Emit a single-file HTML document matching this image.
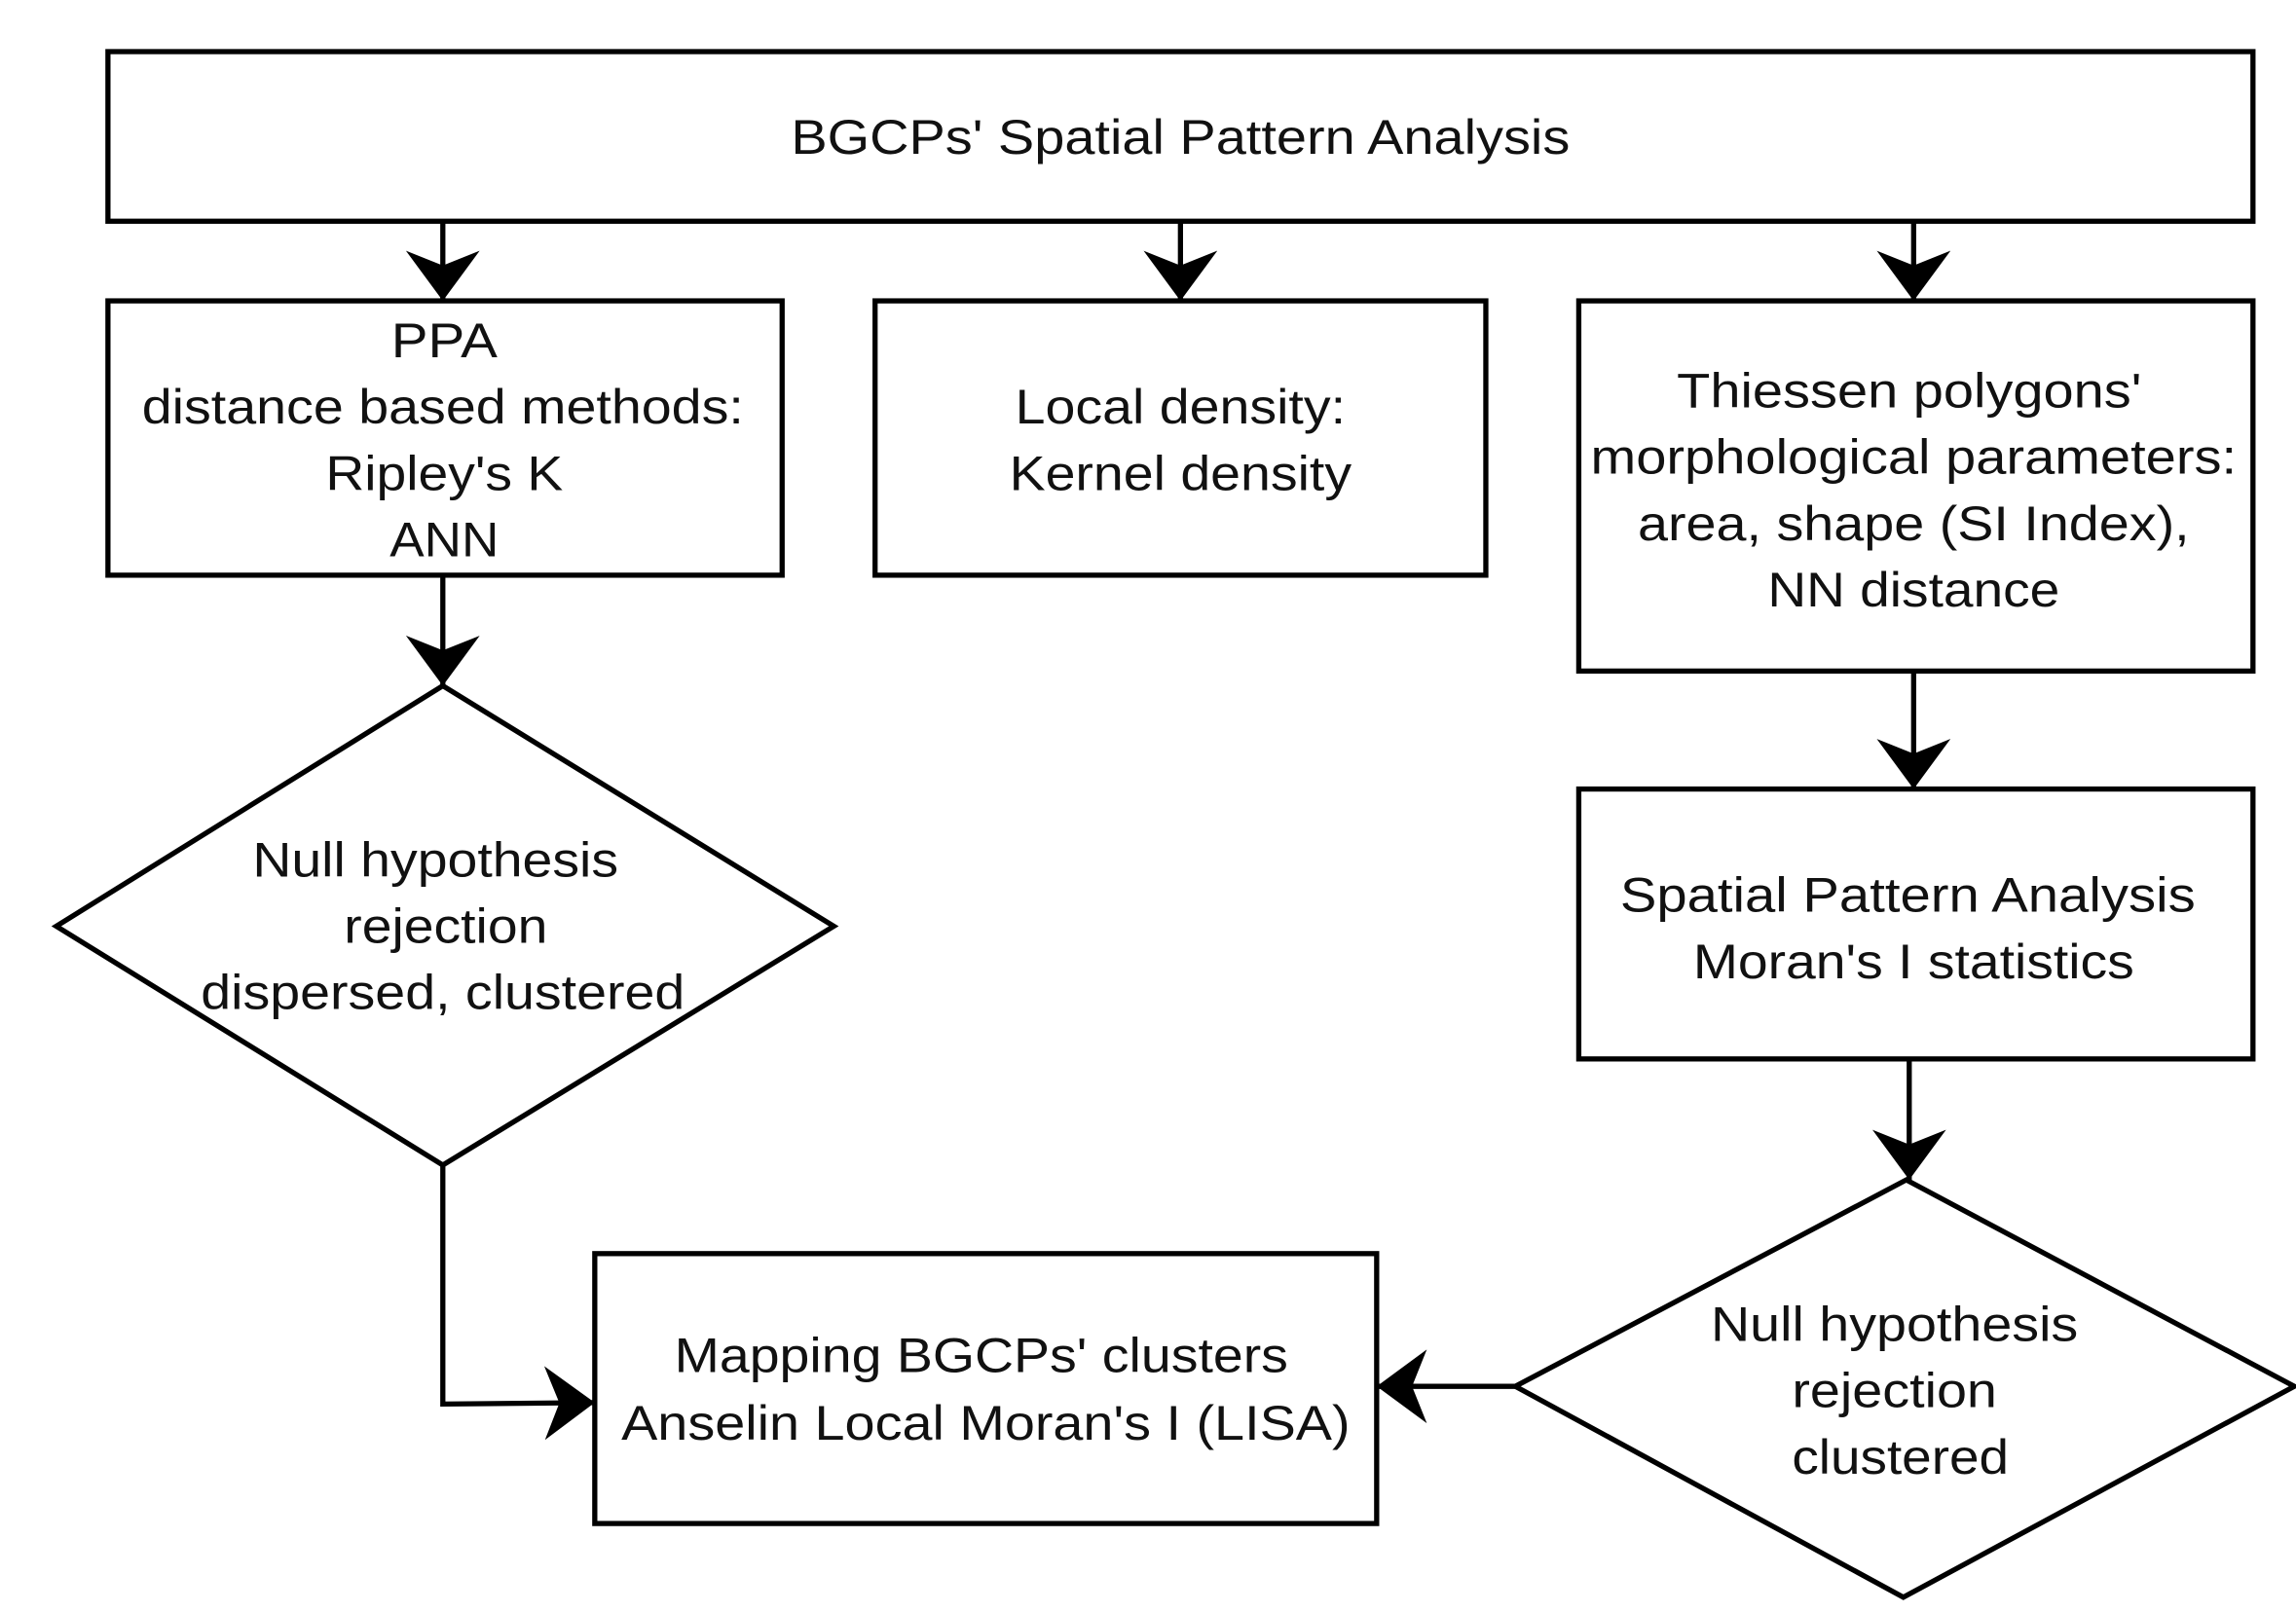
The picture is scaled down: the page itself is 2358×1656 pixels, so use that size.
<!DOCTYPE html>
<html><head><meta charset="utf-8"><style>html,body{margin:0;padding:0;background:#fff}svg{display:block}</style></head>
<body>
<svg width="2358" height="1656" viewBox="0 0 1556 1093" xmlns="http://www.w3.org/2000/svg">
<defs>
<marker id="a" viewBox="0 0 34 50" refX="34" refY="25" markerWidth="34" markerHeight="50" markerUnits="userSpaceOnUse" orient="auto">
<path d="M0,0 L34,25 L0,50 L10,25 Z" fill="#000"/>
</marker>
</defs>
<g fill="none" stroke="#000" stroke-width="3.5">
<rect x="73" y="35" width="1454" height="115"/>
<rect x="73" y="204" width="457" height="186"/>
<rect x="593" y="204" width="414" height="186"/>
<rect x="1070" y="204" width="457" height="251"/>
<rect x="1070" y="535" width="457" height="183"/>
<rect x="403" y="850" width="530" height="183"/>
<polygon points="300,465 565,628 300,790 38,628"/>
<polygon points="1292,800 1555,940 1290,1083 1027,940"/>
<g marker-end="url(#a)">
<line x1="300" y1="150" x2="300" y2="204"/>
<line x1="800" y1="150" x2="800" y2="204"/>
<line x1="1297" y1="150" x2="1297" y2="204"/>
<line x1="300" y1="390" x2="300" y2="465"/>
<line x1="1297" y1="455" x2="1297" y2="535"/>
<line x1="1294" y1="718" x2="1294" y2="800"/>
<polyline points="300,790 300,952 403,951"/>
<line x1="1027" y1="940" x2="933" y2="940"/>
</g>
</g>
<g font-family="Liberation Sans, sans-serif" font-size="33" fill="#111" text-anchor="middle" dominant-baseline="central">
<text x="800" y="93" textLength="528" lengthAdjust="spacingAndGlyphs">BGCPs' Spatial Pattern Analysis</text>
<text x="301" y="231" textLength="72" lengthAdjust="spacingAndGlyphs">PPA</text>
<text x="300" y="276" textLength="408" lengthAdjust="spacingAndGlyphs">distance based methods:</text>
<text x="301" y="321" textLength="161" lengthAdjust="spacingAndGlyphs">Ripley's K</text>
<text x="301" y="366" textLength="74" lengthAdjust="spacingAndGlyphs">ANN</text>
<text x="800" y="276" textLength="224" lengthAdjust="spacingAndGlyphs">Local density:</text>
<text x="800" y="321" textLength="232" lengthAdjust="spacingAndGlyphs">Kernel density</text>
<text x="1294" y="265" textLength="315" lengthAdjust="spacingAndGlyphs">Thiessen polygons'</text>
<text x="1297" y="310" textLength="438" lengthAdjust="spacingAndGlyphs">morphological parameters:</text>
<text x="1297" y="355" textLength="374" lengthAdjust="spacingAndGlyphs">area, shape (SI Index),</text>
<text x="1297" y="400" textLength="198" lengthAdjust="spacingAndGlyphs">NN distance</text>
<text x="1293" y="607" textLength="390" lengthAdjust="spacingAndGlyphs">Spatial Pattern Analysis</text>
<text x="1297" y="652" textLength="299" lengthAdjust="spacingAndGlyphs">Moran's I statistics</text>
<text x="295" y="583" textLength="248" lengthAdjust="spacingAndGlyphs">Null hypothesis</text>
<text x="302" y="628" textLength="138" lengthAdjust="spacingAndGlyphs">rejection</text>
<text x="300" y="673" textLength="328" lengthAdjust="spacingAndGlyphs">dispersed, clustered</text>
<text x="665" y="919" textLength="416" lengthAdjust="spacingAndGlyphs">Mapping BGCPs' clusters</text>
<text x="668" y="965" textLength="494" lengthAdjust="spacingAndGlyphs">Anselin Local Moran's I (LISA)</text>
<text x="1284" y="898" textLength="249" lengthAdjust="spacingAndGlyphs">Null hypothesis</text>
<text x="1284" y="943" textLength="139" lengthAdjust="spacingAndGlyphs">rejection</text>
<text x="1288" y="988" textLength="147" lengthAdjust="spacingAndGlyphs">clustered</text>
</g>
</svg>
</body></html>
